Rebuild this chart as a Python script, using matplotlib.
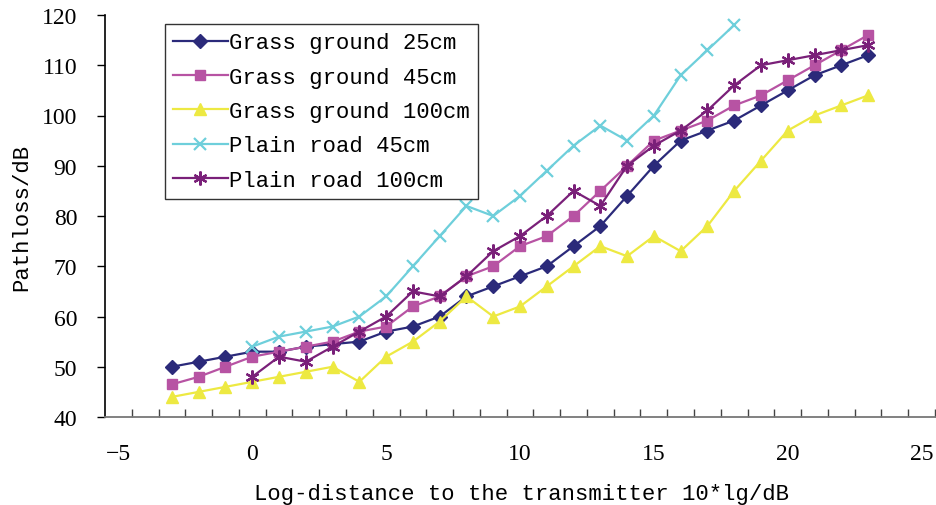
import numpy as np
from matplotlib import pyplot as plt

x_grass = list(range(-3, 24))
x_road45 = list(range(0, 19))
x_road100 = list(range(0, 24))

grass_25 = [50, 51, 52, 53, 53, 54, 54.5, 55, 57, 58, 60, 64, 66, 68, 70, 74, 78, 84,
            90, 95, 97, 99, 102, 105, 108, 110, 112]
grass_45 = [46.5, 48, 50, 52, 53, 54, 55, 57, 58, 62, 64, 68, 70, 74, 76, 80, 85, 90,
            95, 97, 99, 102, 104, 107, 110, 113, 116]
grass_100 = [44, 45, 46, 47, 48, 49, 50, 47, 52, 55, 59, 64, 60, 62, 66, 70, 74, 72,
             76, 73, 78, 85, 91, 97, 100, 102, 104]
road_45 = [54, 56, 57, 58, 60, 64, 70, 76, 82, 80, 84, 89, 94, 98, 95, 100, 108, 113, 118]
road_100 = [48, 52, 51, 54, 57, 60, 65, 64, 68, 73, 76, 80, 85, 82, 90, 94, 97, 101,
            106, 110, 111, 112, 113, 114]

labels = ['Grass ground 25cm', 'Grass ground 45cm', 'Grass ground 100cm',
          'Plain road 45cm', 'Plain road 100cm']

mono = 'Liberation Mono'
serif = 'Liberation Serif'

fig = plt.figure(figsize=(9.37, 5.06), dpi=100)
ax = fig.add_axes([105 / 937, 1 - 418 / 506, 830 / 937, 402 / 506])

ax.plot(x_grass, grass_25, c='#2B2A7A', lw=1.6, marker='D', ms=7, label=labels[0])
ax.plot(x_grass, grass_45, c='#B753A3', lw=1.6, marker='s', ms=7.5, label=labels[1])
ax.plot(x_grass, grass_100, c='#EDE942', lw=1.6, marker='^', ms=8.5, label=labels[2])
ax.plot(x_road45, road_45, c='#6ECFDB', lw=1.6, marker='x', ms=9, mew=1.6, label=labels[3])
ax.plot(x_road100, road_100, c='#7A2079', lw=1.6, marker=(6, 2, 0), ms=10, mew=1.6,
        label=labels[4])

ax.set_xlim(-5.5, 25.5)
ax.set_ylim(40, 120)

ax.set_xticks(range(-5, 26, 5))
ax.set_xticks(np.arange(-4.5, 25.6, 1), minor=True)
ax.tick_params(axis='x', which='major', length=0, pad=19)
ax.tick_params(axis='x', which='minor', direction='in', length=6, width=1, color='#444444')
ax.set_yticks(range(40, 121, 10))
ax.tick_params(axis='y', direction='out', length=6, width=1, pad=14)

for lab in ax.get_xticklabels() + ax.get_yticklabels():
    lab.set_fontfamily(serif)
    lab.set_fontsize(17)

ax.spines['top'].set_visible(False)
ax.spines['right'].set_visible(False)
ax.spines['bottom'].set_color('#777777')
ax.spines['bottom'].set_linewidth(1.3)
ax.spines['left'].set_linewidth(1.2)

ax.set_xlabel('Log-distance to the transmitter 10*lg/dB', fontfamily=mono, fontsize=16)
ax.xaxis.set_label_coords(0.502, -0.163)
ax.set_ylabel('Pathloss/dB', fontfamily=mono, fontsize=16)
ax.yaxis.set_label_coords(-0.088, 0.5)

leg = ax.legend(loc='upper left', bbox_to_anchor=(0.072, 0.978), prop={'family': mono, 'size': 16},
                frameon=True, fancybox=False, edgecolor='black', borderpad=0.38,
                labelspacing=0.6, handlelength=2.45, handletextpad=0.05, borderaxespad=0)
leg.get_frame().set_linewidth(1)

fig.savefig('out.png', dpi=100)
